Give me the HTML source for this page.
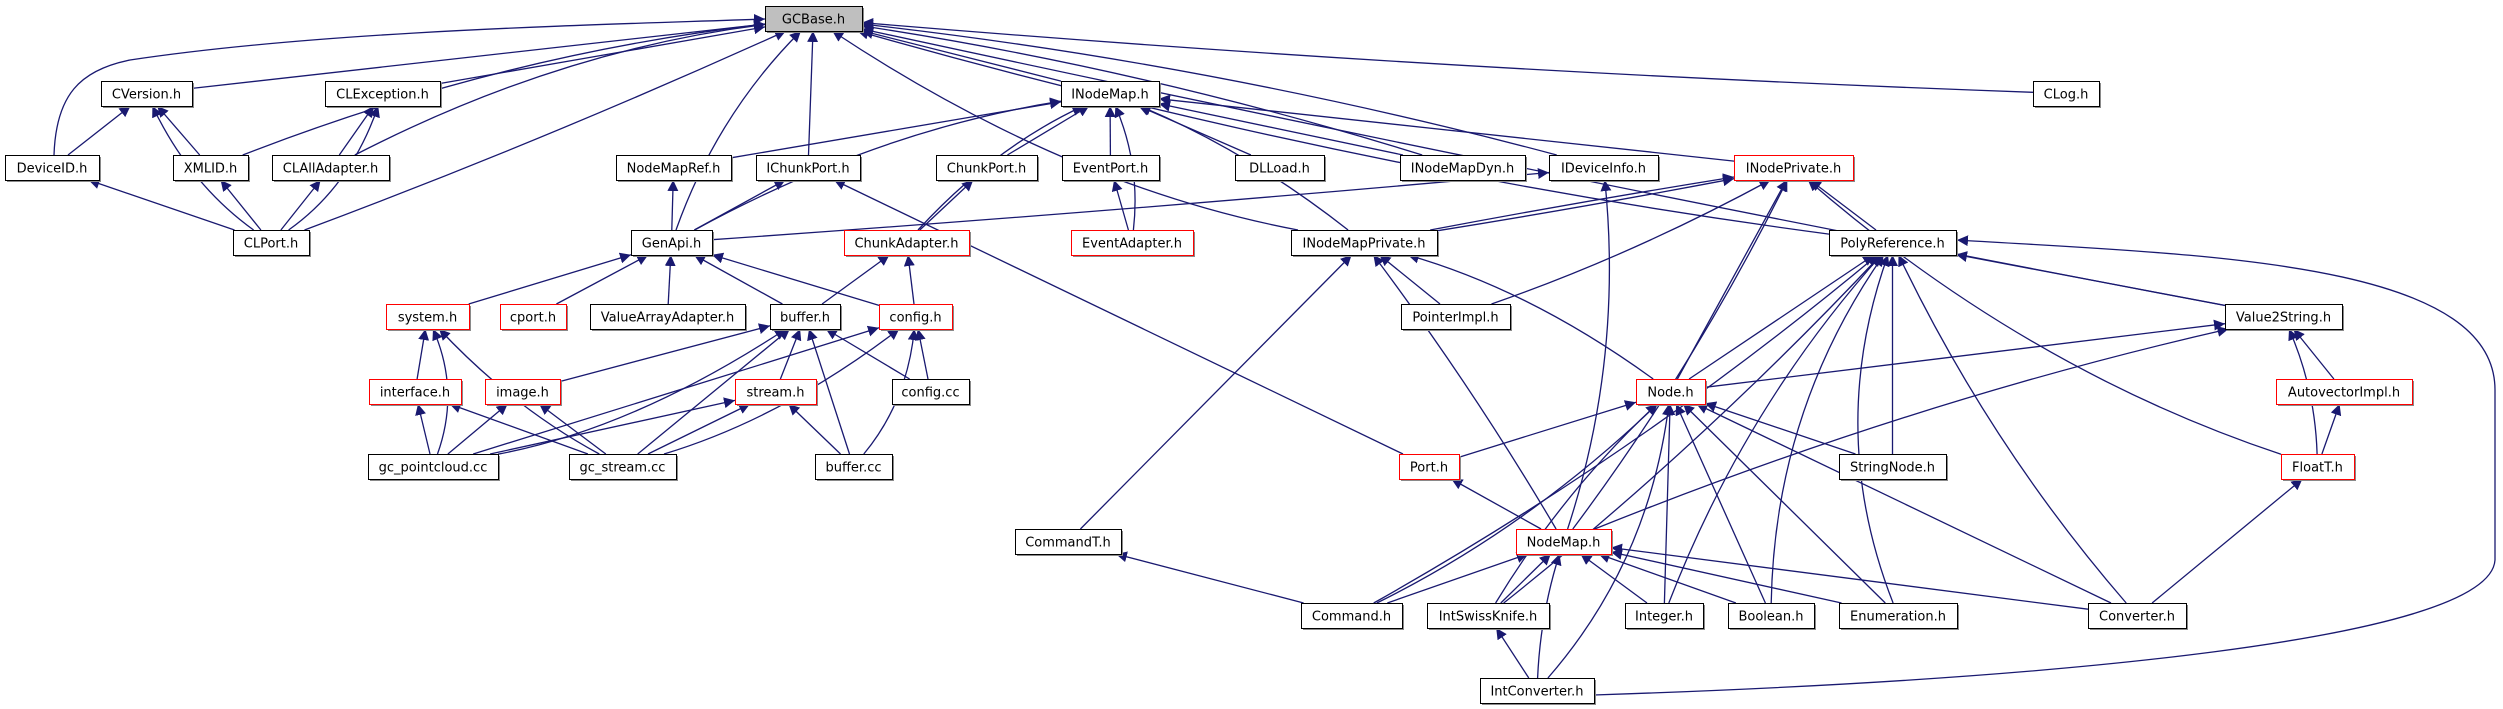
<!DOCTYPE html>
<html><head><meta charset="utf-8"><style>
html,body{margin:0;padding:0;background:#fff;}
svg{display:block}
text{font-family:"DejaVu Sans","Liberation Sans",sans-serif;font-size:13px;fill:#000}
</style></head><body>
<svg id="g" width="2503" height="709" viewBox="0 0 2503 709" xmlns="http://www.w3.org/2000/svg">
<defs><marker id="a" viewBox="0 0 10 10" refX="10" refY="5" markerWidth="11" markerHeight="11" markerUnits="userSpaceOnUse" orient="auto"><path d="M0,0 L10,5 L0,10 z" fill="#191970"/></marker></defs>
<g id="E"></g><g id="N"></g>
</svg>
<script>
var R=[6,81,155,230,304,379,454,529,603,678];
var nodes={
GCBase:["GCBase.h",765,862,0,0,1],
CVersion:["CVersion.h",101,192,1],CLException:["CLException.h",325,440,1],INodeMap:["INodeMap.h",1061,1159,1],CLog:["CLog.h",2033,2099,1],
DeviceID:["DeviceID.h",5,99,2],XMLID:["XMLID.h",173,248,2],CLAllAdapter:["CLAllAdapter.h",272,389,2],NodeMapRef:["NodeMapRef.h",616,731,2],IChunkPort:["IChunkPort.h",756,860,2],ChunkPort:["ChunkPort.h",936,1037,2],EventPort:["EventPort.h",1062,1159,2],DLLoad:["DLLoad.h",1235,1324,2],INodeMapDyn:["INodeMapDyn.h",1400,1525,2],IDeviceInfo:["IDeviceInfo.h",1549,1658,2],INodePrivate:["INodePrivate.h",1734,1853,2,1],
CLPort:["CLPort.h",233,309,3],GenApi:["GenApi.h",631,712,3],ChunkAdapter:["ChunkAdapter.h",844,969,3,1],EventAdapter:["EventAdapter.h",1071,1193,3,1],INodeMapPrivate:["INodeMapPrivate.h",1291,1437,3],PolyReference:["PolyReference.h",1829,1956,3],
system:["system.h",386,469,4,1],cport:["cport.h",500,566,4,1],ValueArrayAdapter:["ValueArrayAdapter.h",590,745,4],buffer:["buffer.h",770,840,4],config:["config.h",879,952,4,1],PointerImpl:["PointerImpl.h",1401,1510,4],Value2String:["Value2String.h",2225,2342,4],
interface:["interface.h",369,461,5,1],image:["image.h",485,560,5,1],stream:["stream.h",735,816,5,1],configcc:["config.cc",892,969,5],Node:["Node.h",1636,1705,5,1],AutovectorImpl:["AutovectorImpl.h",2276,2412,5,1],
gcpc:["gc_pointcloud.cc",368,498,6],gcs:["gc_stream.cc",569,676,6],buffercc:["buffer.cc",815,892,6],Port:["Port.h",1399,1459,6,1],StringNode:["StringNode.h",1839,1946,6],FloatT:["FloatT.h",2281,2354,6,1],
CommandT:["CommandT.h",1015,1121,7],NodeMap:["NodeMap.h",1516,1611,7,1],
Command:["Command.h",1301,1402,8],IntSwissKnife:["IntSwissKnife.h",1427,1549,8],Integer:["Integer.h",1625,1703,8],Boolean:["Boolean.h",1728,1814,8],Enumeration:["Enumeration.h",1839,1957,8],Converter:["Converter.h",2088,2186,8],
IntConverter:["IntConverter.h",1480,1594,9]
};
var edges=[
["CVersion","GCBase",0],["CLException","GCBase",0],["XMLID","GCBase",-40],["CLAllAdapter","GCBase",-45],["CLPort","GCBase",10],["GenApi","GCBase",-30],["IChunkPort","GCBase",0],["INodeMap","GCBase",0],["INodeMapDyn","GCBase",25],["IDeviceInfo","GCBase",30],["INodeMapPrivate","GCBase",-60],["PolyReference","GCBase",-40],["Value2String","GCBase",-10],["CLog","GCBase",-15],
["DeviceID","CVersion",0],["XMLID","CVersion",0],["CLPort","CVersion",-25],["CLAllAdapter","CLException",0],["CLPort","CLException",30],["CLPort","DeviceID",0],["CLPort","XMLID",0],["CLPort","CLAllAdapter",0],
["NodeMapRef","INodeMap",0],["GenApi","INodeMap",-40],["ChunkPort","INodeMap",0],["EventPort","INodeMap",0],["EventAdapter","INodeMap",20],["ChunkAdapter","INodeMap",-25],["DLLoad","INodeMap",0],["INodeMapDyn","INodeMap",0],["INodeMapPrivate","INodeMap",20],["INodePrivate","INodeMap",0],
["GenApi","NodeMapRef",0],["GenApi","IChunkPort",0],["GenApi","IDeviceInfo",5],["ChunkAdapter","ChunkPort",0],["EventAdapter","EventPort",0],
["system","GenApi",0],["cport","GenApi",0],["ValueArrayAdapter","GenApi",0],["buffer","GenApi",0],["config","GenApi",0],
["buffer","ChunkAdapter",0],["config","ChunkAdapter",0],
["interface","system",0],["gcpc","system",30],["gcs","system",-20],
["image","buffer",0],["stream","buffer",0],["gcpc","buffer",40],["gcs","buffer",0],["buffercc","buffer",0],["configcc","buffer",0],
["gcpc","config",0],["gcs","config",30],["configcc","config",0],["buffercc","config",25],
["gcpc","interface",0],["gcs","interface",0],["gcpc","image",0],["gcs","image",0],["gcpc","stream",0],["gcs","stream",0],["buffercc","stream",0],
["Port","IChunkPort",0],
["INodeMapPrivate","INodePrivate",3],["INodeMapPrivate","INodePrivate",-3],["PointerImpl","INodeMapPrivate",0],["PointerImpl","INodePrivate",15],["Node","INodeMapPrivate",30],["NodeMap","INodeMapPrivate",10],["CommandT","INodeMapPrivate",0],["NodeMap","IDeviceInfo",40],
["NodeMap","INodePrivate",20],["Node","INodePrivate",0],["PolyReference","INodePrivate",0],["FloatT","INodePrivate",-60],
["Node","PolyReference",0],["Command","PolyReference",30],["IntSwissKnife","PolyReference",20],["StringNode","PolyReference",0],["Integer","PolyReference",-40],["Boolean","PolyReference",-60],["Enumeration","PolyReference",-70],["Converter","PolyReference",-30],["Value2String","PolyReference",0],
["Node","Value2String",0],["NodeMap","Value2String",-30],["AutovectorImpl","Value2String",0],["FloatT","Value2String",15],["FloatT","AutovectorImpl",0],
["Port","Node",0],["Command","Node",30],["IntSwissKnife","Node",-20],["Integer","Node",0],["Boolean","Node",0],["Enumeration","Node",0],["Converter","Node",0],["StringNode","Node",0],["IntConverter","Node",50],
["NodeMap","Port",0],
["Command","NodeMap",0],["IntSwissKnife","NodeMap",0],["IntConverter","NodeMap",-10],["Integer","NodeMap",0],["Boolean","NodeMap",0],["Enumeration","NodeMap",0],["Converter","NodeMap",0],
["Command","CommandT",0],["IntConverter","IntSwissKnife",0],["Converter","FloatT",0]
];
function box(k){var n=nodes[k];var y=R[n[3]];return {x1:n[1],x2:n[2],y1:y,y2:y+25,cx:(n[1]+n[2])/2,cy:y+12.5};}
function clip(b,px,py){
 var dx=px-b.cx,dy=py-b.cy;var hw=(b.x2-b.x1)/2,hh=12.5;
 var t=Math.min(dx?hw/Math.abs(dx):1e9,dy?hh/Math.abs(dy):1e9);return [b.cx+dx*t,b.cy+dy*t];}
var E=document.getElementById("E"),N=document.getElementById("N");
var h="";
edges.forEach(function(e){var c=box(e[0]),p=box(e[1]);
 var mx=(c.cx+p.cx)/2,my=(c.cy+p.cy)/2,dx=p.cx-c.cx,dy=p.cy-c.cy,L=Math.hypot(dx,dy)||1;
 var qx=mx+(-dy/L)*e[2],qy=my+(dx/L)*e[2];
 var s=clip(c,qx,qy),t=clip(p,qx,qy);
 h+='<path d="M'+s[0].toFixed(1)+','+s[1].toFixed(1)+' Q'+qx.toFixed(1)+','+qy.toFixed(1)+' '+t[0].toFixed(1)+','+t[1].toFixed(1)+'" fill="none" stroke="#191970" stroke-width="1.3" marker-end="url(#a)"/>';
});
h+='<path d="M1594,695 C2050,680 2490,640 2495,560 L2495,390 C2495,260 2200,255 1957,240" fill="none" stroke="#191970" stroke-width="1.3" marker-end="url(#a)"/>';
h+='<path d="M54,155 C56,95 80,70 130,60 C330,30 600,25 765,19" fill="none" stroke="#191970" stroke-width="1.3" marker-end="url(#a)"/>';
E.innerHTML=h;
var g="";
for(var k in nodes){var n=nodes[k],b=box(k);var red=n[4]===1,grey=n[5]===1;
 g+='<rect x="'+(b.x1+2)+'" y="'+(b.y1+2)+'" width="'+(b.x2-b.x1)+'" height="25" fill="#8a8a8a"/>';
 g+='<rect x="'+(b.x1+0.5)+'" y="'+(b.y1+0.5)+'" width="'+(b.x2-b.x1)+'" height="25" fill="'+(grey?'#bfbfbf':'#fff')+'" stroke="'+(red?'#ff0000':'#000')+'" stroke-width="1"/>';
 g+='<text x="'+b.cx+'" y="'+(b.y1+17.5)+'" text-anchor="middle">'+n[0]+'</text>';}
N.innerHTML=g;
</script>
</body></html>
